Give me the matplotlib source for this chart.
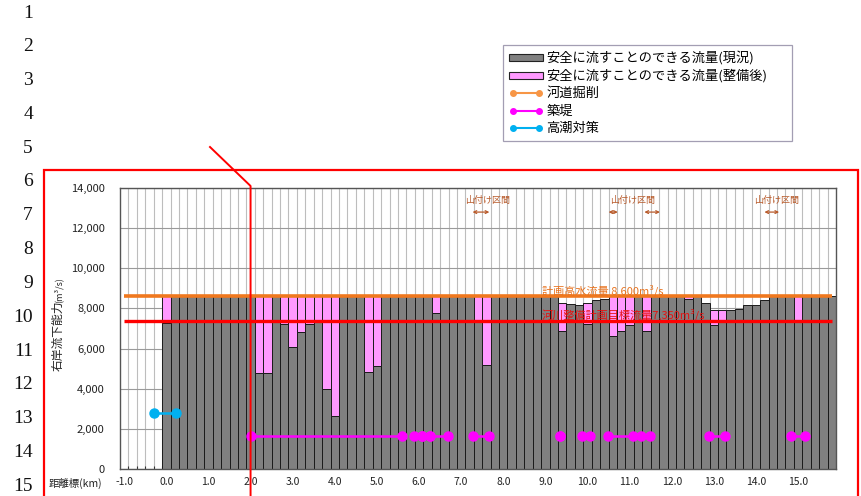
import matplotlib
matplotlib.use('Agg')
import matplotlib.pyplot as plt
import numpy as np
from matplotlib.patches import Rectangle, Patch
from matplotlib.lines import Line2D
from matplotlib.ticker import FuncFormatter

plt.rcParams['font.family'] = ['Noto Sans CJK JP', 'DejaVu Sans']

# ---------------- data ----------------
km = [0.0, 0.2, 0.4, 0.6, 0.8, 1.0, 1.2, 1.4, 1.6, 1.8,
      2.0, 2.2, 2.4, 2.6, 2.8, 3.0, 3.2, 3.4, 3.6, 3.8,
      4.0, 4.2, 4.4, 4.6, 4.8, 5.0, 5.2, 5.4, 5.6, 5.8,
      6.0, 6.2, 6.4, 6.6, 6.8, 7.0, 7.2, 7.4, 7.6, 7.8,
      8.0, 8.2, 8.4, 8.6, 8.8, 9.0, 9.2, 9.4, 9.6, 9.8,
      10.0, 10.2, 10.4, 10.6, 10.8, 11.0, 11.2, 11.4, 11.6, 11.8,
      12.0, 12.2, 12.4, 12.6, 12.8, 13.0, 13.2, 13.4, 13.6, 13.8,
      14.0, 14.2, 14.4, 14.6, 14.8, 15.0, 15.2, 15.4, 15.6, 15.8]

# safe flow, current (m3/s)
current = [7250, 8600, 8600, 8600, 8600, 8600, 8600, 8600, 8600, 8600,
           8600, 4800, 4800, 8600, 7200, 6100, 6850, 7200, 7300, 4000,
           2650, 8600, 8600, 8600, 4850, 5150, 8600, 8600, 8600, 8600,
           8600, 8600, 7750, 8600, 8600, 8600, 8600, 7400, 5200, 8600,
           8600, 8600, 8600, 8600, 8600, 8600, 8600, 6900, 8200, 8150,
           7200, 8400, 8450, 6650, 6900, 7150, 8600, 6900, 8600, 8600,
           8600, 8600, 8450, 8600, 8250, 7150, 7400, 7900, 7950, 8150,
           8150, 8400, 8600, 8600, 8600, 7400, 8600, 8600, 8600, 8600]

# safe flow, after improvement (m3/s)
improved = [8600, 8600, 8600, 8600, 8600, 8600, 8600, 8600, 8600, 8600,
            8600, 8600, 8600, 8600, 8600, 8600, 8600, 8600, 8600, 8600,
            8600, 8600, 8600, 8600, 8600, 8600, 8600, 8600, 8600, 8600,
            8600, 8600, 8600, 8600, 8600, 8600, 8600, 8600, 8600, 8600,
            8600, 8600, 8600, 8600, 8600, 8600, 8600, 8250, 8200, 8150,
            8250, 8400, 8450, 8600, 8600, 8600, 8600, 8600, 8600, 8600,
            8600, 8600, 8600, 8600, 8250, 7900, 7900, 7900, 7950, 8150,
            8150, 8400, 8600, 8600, 8600, 8600, 8600, 8600, 8600, 8600]

plan_flow = 8600      # 計画高水流量
target_flow = 7350    # 河川整備計画目標流量

# 築堤 sections (km)
emb_start = [2.0, 5.87, 6.07, 6.27, 7.27, 9.35, 9.87, 10.48, 11.27, 12.89, 14.84]
emb_end   = [5.6, 6.07, 6.27, 6.68, 7.67, 9.35, 10.07, 11.07, 11.49, 13.27, 15.16]
emb_level = 1650

# 高潮対策 section (km)
tide_start = [-0.3]
tide_end = [0.22]
tide_level = 2800

# 山付け区間 (km)
yama_start = [7.27, 10.5, 11.35, 14.2]
yama_end   = [7.67, 10.72, 11.72, 14.55]
yama_label_km = [7.62, 11.06, 14.5]

xtick_km = [-1.0, 0.0, 1.0, 2.0, 3.0, 4.0, 5.0, 6.0, 7.0, 8.0,
            9.0, 10.0, 11.0, 12.0, 13.0, 14.0, 15.0]
ytick_vals = [0, 2000, 4000, 6000, 8000, 10000, 12000, 14000]

legend_labels = ['安全に流すことのできる流量(現況)', '安全に流すことのできる流量(整備後)',
                 '河道掘削', '築堤', '高潮対策']

# ---------------- figure ----------------
W, H = 861, 496
fig = plt.figure(figsize=(W / 100, H / 100), dpi=100)
fig.patch.set_facecolor('white')

def fx(x):
    return x / W

def fy(y):
    return 1 - y / H

ax = fig.add_axes([fx(120), fy(469), (836 - 120) / W, (469 - 188) / H])
ax.set_xlim(-1.1, 15.9)
ax.set_ylim(0, 14000)

GRAY = '#808080'
PINK = '#ff99ff'
ORANGE = '#f0781e'
RED = '#ff0000'
MAGENTA = '#ff00ff'
BLUE = '#00b0f0'
BROWN = '#b85a2a'

km_a = np.array(km)
cur_a = np.array(current)
imp_a = np.array(improved)

ax.bar(km_a, cur_a, width=0.2, color=GRAY, edgecolor='#1a1a1a', linewidth=0.7, zorder=2)
extra = imp_a - cur_a
mask = extra > 0
ax.bar(km_a[mask], extra[mask], bottom=cur_a[mask], width=0.2, color=PINK,
       edgecolor='#1a1a1a', linewidth=0.7, zorder=2)

# horizontal reference lines
ax.plot([xtick_km[0], km[-1]], [plan_flow, plan_flow], color=ORANGE, lw=2.6, zorder=4,
        solid_capstyle='butt')
ax.plot([xtick_km[0], km[-1]], [target_flow, target_flow], color=RED, lw=2.4, zorder=4,
        solid_capstyle='butt')
ax.text(8.91, 8900, '計画高水流量 8,600m³/s', color='#e8731f', fontsize=8,
        ha='left', va='center', zorder=5)
ax.text(8.91, 7690, '河川整備計画目標流量7,350m³/s', color='#e81010', fontsize=8,
        ha='left', va='center', zorder=5)

# embankment
for s, e in zip(emb_start, emb_end):
    ax.plot([s, e], [emb_level, emb_level], color=MAGENTA, lw=1.8, marker='o',
            markersize=6.5, zorder=5)
# high tide
for s, e in zip(tide_start, tide_end):
    ax.plot([s, e], [tide_level, tide_level], color=BLUE, lw=1.8, marker='o',
            markersize=6.5, zorder=5)

# 山付け区間
for c in yama_label_km:
    ax.text(c, 13400, '山付け区間', color=BROWN, fontsize=6.5, ha='center', va='center', zorder=5)
for s, e in zip(yama_start, yama_end):
    ax.annotate('', xy=(e, 12800), xytext=(s, 12800),
                arrowprops=dict(arrowstyle='<->', color=BROWN, lw=0.9,
                                shrinkA=0, shrinkB=0, mutation_scale=5), zorder=5)

# grid & axes styling
ax.set_axisbelow(True)
minor_edges = np.arange(-0.9, 15.85, 0.2)
ax.set_xticks(minor_edges, minor=True)
ax.set_xticks(xtick_km)
ax.set_xticklabels([f'{v:.1f}' for v in xtick_km])
ax.set_yticks(ytick_vals)
ax.yaxis.set_major_formatter(FuncFormatter(lambda v, p: f'{int(v):,}'))
ax.grid(which='minor', axis='x', color='#bdbdbd', lw=0.8, zorder=0)
ax.grid(which='major', axis='x', visible=False)
ax.grid(which='major', axis='y', color='#9a9a9a', lw=0.8, zorder=0)
ax.tick_params(axis='x', which='major', length=0, pad=6, labelsize=7.5, labelcolor='#222222')
ax.tick_params(axis='x', which='minor', direction='in', length=2.5, width=0.8, color='#333333')
ax.tick_params(axis='y', which='both', length=0, pad=11, labelsize=8, labelcolor='#222222')
for sp in ax.spines.values():
    sp.set_color('#555555')
    sp.set_linewidth(1.0)

# axis titles
fig.text(fx(58), fy(371), '右岸流下能力', rotation=90, ha='center', va='bottom', fontsize=8.5,
         color='#222222')
fig.text(fx(58), fy(303), '(m³/s)', rotation=90, ha='center', va='bottom', fontsize=6.5,
         color='#222222')
fig.text(fx(49), fy(483), '距離標(km)', ha='left', va='center', fontsize=7.5, color='#222222')

# legend
handles = [Patch(facecolor=GRAY, edgecolor='#222222', linewidth=0.8),
           Patch(facecolor=PINK, edgecolor='#222222', linewidth=0.8),
           Line2D([], [], color='#f79646', lw=1.5, marker='o', markersize=4),
           Line2D([], [], color=MAGENTA, lw=1.5, marker='o', markersize=4),
           Line2D([], [], color=BLUE, lw=1.5, marker='o', markersize=4)]
leg = fig.legend(handles, legend_labels, loc='upper left',
                 bbox_to_anchor=(fx(503), fy(139), (792 - 503) / W, (139 - 45) / H),
                 mode='expand', frameon=True, fancybox=False, edgecolor='#8c86a0',
                 fontsize=9.5, handlelength=2.6, handleheight=0.4, handletextpad=0.25,
                 labelspacing=0.33, borderpad=0.45, numpoints=2, borderaxespad=0)
leg.get_frame().set_linewidth(0.9)

# line numbers on the far left
for k in range(1, 16):
    fig.text(fx(33), fy(13 + (k - 1) * 33.8), str(k), ha='right', va='center', fontsize=14,
             family='Liberation Serif', color='#111111')

# red frame
fig.add_artist(Rectangle((fx(44), -0.1), (858 - 44) / W, fy(170) + 0.1,
                         transform=fig.transFigure, fill=False, edgecolor=RED, lw=1.6))

# red leader line through km 2.0
x2 = ax.transData.transform((2.0, 0))[0] / W
fig.add_artist(Line2D([fx(210), x2, x2], [fy(147), fy(186), -0.05],
                      transform=fig.transFigure, color=RED, lw=1.4))

fig.savefig('out.png', dpi=100)
